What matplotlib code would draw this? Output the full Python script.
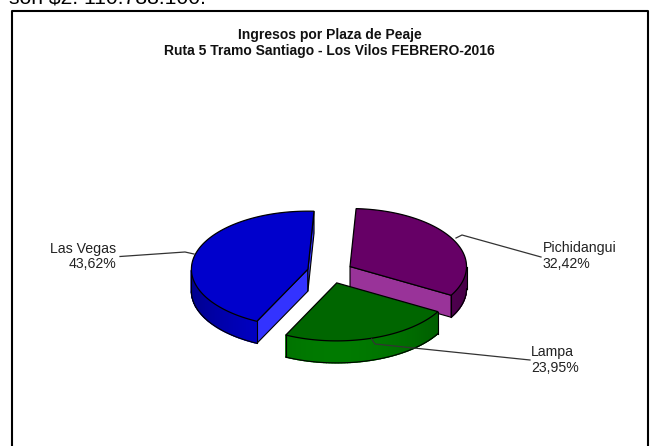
import matplotlib
matplotlib.use('Agg')
import matplotlib.pyplot as plt
from matplotlib.colors import to_rgb
import numpy as np

plt.rcParams['font.family'] = ['Liberation Sans', 'DejaVu Sans']

plazas = ['Las Vegas', 'Pichidangui', 'Lampa']
shares = [43.62, 32.42, 23.95]
share_labels = ['43,62%', '32,42%', '23,95%']
top_colors = ['#0000cc', '#660066', '#006600']
side_colors = ['#0000cc', '#660066', '#007a00']
cut_colors = ['#3333ff', '#993399', '#007a00']

# pie geometry in image pixels
cx, cy = 330, 272
rx, ry = 116.5, 58
depth = 22
explode = 22.8
start = 87


def point(x0, y0, ang):
    a = np.radians(ang)
    return x0 + rx * np.cos(a), y0 - ry * np.sin(a)


def draw_face(ax, x0, y0, a, color, zo):
    px, py = point(x0, y0, a)
    ax.fill([x0, px, px, x0], [y0, py, py + depth, y0 + depth],
            facecolor=color, edgecolor='black', lw=0.8, zorder=zo)


def draw_wedge(ax, x0, y0, a1, a2, top, side, cut, zo):
    # a1 > a2, going clockwise
    angs = np.linspace(a1, a2, 120)
    xs, ys = point(x0, y0, angs)

    # cut faces, only those turned to the viewer
    if np.cos(np.radians(a1)) < 0:
        draw_face(ax, x0, y0, a1, cut, zo + 0.1)
    if np.cos(np.radians(a2)) > 0:
        draw_face(ax, x0, y0, a2, cut, zo + 0.1)

    # outer wall, only the part facing the viewer
    front = np.sin(np.radians(angs)) < 0
    fx, fy, fa = xs[front], ys[front], angs[front]
    for i in range(len(fx) - 1):
        # lit from the front, darker towards the sides
        f = 0.7 + 0.3 * np.sin(np.radians(fa[i])) ** 2
        c = np.array(to_rgb(side)) * f
        ax.fill([fx[i], fx[i + 1], fx[i + 1], fx[i]],
                [fy[i], fy[i + 1], fy[i + 1] + depth, fy[i] + depth],
                color=c, lw=1.0, zorder=zo + 0.15)
    ax.plot(fx, fy + depth, color='black', lw=0.8, zorder=zo + 0.2)
    for k in (0, -1):
        ax.plot([fx[k], fx[k]], [fy[k], fy[k] + depth], color='black', lw=0.8, zorder=zo + 0.2)

    ax.fill(np.r_[x0, xs], np.r_[y0, ys], facecolor=top, edgecolor='black', lw=0.9, zorder=zo + 0.3)


fig = plt.figure(figsize=(6.56, 4.46), dpi=100)
ax = fig.add_axes([0, 0, 1, 1])
ax.set_xlim(0, 656)
ax.set_ylim(446, 0)
ax.axis('off')

# chart frame, runs past the bottom of the crop
ax.plot([12, 12, 647.5, 647.5], [446, 11, 11, 446], color='black', lw=1.5, zorder=1)

# line of the page above the chart, cut by the crop
ax.text(9, 3.5, 'son $2. 110.788.100.', fontsize=15.2, color='black', va='baseline', ha='left')

ax.text(329.5, 35, 'Ingresos por Plaza de Peaje', fontsize=10, fontweight='bold', ha='center', va='center', color='#111111')
ax.text(329.5, 51, 'Ruta 5 Tramo Santiago - Los Vilos FEBRERO-2016', fontsize=10, fontweight='bold', ha='center', va='center', color='#111111')

# leader lines
ax.plot([120, 185, 194], [256.5, 252, 254], color='#333333', lw=0.9, zorder=2)
ax.plot([456, 462, 541], [238, 235, 257], color='#333333', lw=0.9, zorder=2)

# Las Vegas runs counter clockwise from the start angle, the others clockwise
angle_sets = [
    (start + shares[0] * 3.6, start),
    (start, start - shares[1] * 3.6),
    (start - shares[1] * 3.6, start - (shares[1] + shares[2]) * 3.6),
]
for i, (a1, a2) in enumerate(angle_sets):
    mid = np.radians((a1 + a2) / 2)
    x0 = cx + explode * np.cos(mid)
    y0 = cy - explode * 0.5 * np.sin(mid)
    draw_wedge(ax, x0, y0, a1, a2, top_colors[i], side_colors[i], cut_colors[i], 3 + i)

ax.plot([371.6, 375, 530], [339, 344, 360], color='#333333', lw=0.9, zorder=8)

ax.text(116, 248.5, plazas[0], fontsize=10.2, ha='right', va='center', color='#222222')
ax.text(116, 264.5, share_labels[0], fontsize=10.2, ha='right', va='center', color='#222222')
ax.text(543, 248, plazas[1], fontsize=10.2, ha='left', va='center', color='#222222')
ax.text(543, 264.5, share_labels[1], fontsize=10.2, ha='left', va='center', color='#222222')
ax.text(531, 352, plazas[2], fontsize=10.2, ha='left', va='center', color='#222222')
ax.text(531, 368, share_labels[2], fontsize=10.2, ha='left', va='center', color='#222222')

fig.savefig('out.png', dpi=100)
